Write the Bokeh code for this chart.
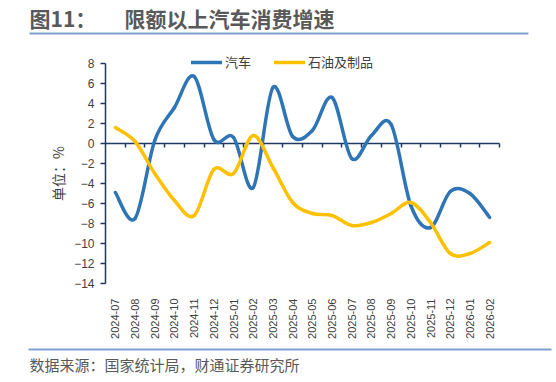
import math
from bokeh.plotting import figure
from bokeh.models import (Range1d, FixedTicker, Label, BoxAnnotation, LinearAxis,
                          Legend, LegendItem, ColumnDataSource)
from bokeh.embed import file_html
from bokeh.resources import INLINE

# ---- data ----
months = ["2024-07", "2024-08", "2024-09", "2024-10", "2024-11", "2024-12",
          "2025-01", "2025-02", "2025-03", "2025-04", "2025-05", "2025-06",
          "2025-07", "2025-08", "2025-09", "2025-10", "2025-11", "2025-12",
          "2026-01", "2026-02"]
auto = [-4.9, -7.5, 0.3, 3.6, 6.7, 0.4, 0.6, -4.4, 5.6, 0.7, 1.3, 4.6,
        -1.5, 0.8, 1.9, -6.2, -8.4, -4.8, -5.0, -7.4]
oil = [1.6, 0.2, -3.0, -5.7, -7.2, -2.6, -3.0, 0.8, -2.4, -5.9, -7.0, -7.2,
       -8.2, -7.9, -7.0, -5.9, -7.9, -11.0, -11.0, -9.9]
y_ticks = [-14, -12, -10, -8, -6, -4, -2, 0, 2, 4, 6, 8]
Y_MIN, Y_MAX = -14, 8

BLUE = "#2E75B6"
GOLD = "#FFC000"
NAVY = "#1F3864"
GREY = "#404040"
TGREY = "#595959"
RULE = "#7F9FCF"
CJK = "Noto Sans CJK SC"

W, H = 556, 382
# plot area in page pixels
PL, PT, PR, PB = 105, 63, 499, 283
n = len(months)
xpx = (PR - PL) / n            # px per category
ypx = (PB - PT) / (Y_MAX - Y_MIN)  # px per unit

x_lo = -0.5 - PL / xpx
x_hi = n - 0.5 + (W - PR) / xpx
y_hi = Y_MAX + PT / ypx
y_lo = Y_MIN - (H - PB) / ypx

p = figure(width=W, height=H, output_backend="svg", toolbar_location=None,
           x_range=Range1d(x_lo, x_hi), y_range=Range1d(y_lo, y_hi),
           x_axis_location=None, y_axis_location=None,
           min_border=0, min_border_left=0, min_border_right=0,
           min_border_top=0, min_border_bottom=0)
p.outline_line_color = None
p.grid.visible = False
p.background_fill_color = "white"
p.border_fill_color = "white"

# y axis
ya = LinearAxis(fixed_location=-0.5, bounds=(Y_MIN, Y_MAX),
                ticker=FixedTicker(ticks=y_ticks))
ya.axis_line_color = NAVY
ya.axis_line_width = 1.5
ya.major_tick_line_color = NAVY
ya.major_tick_line_width = 1.5
ya.major_tick_out = 5
ya.major_tick_in = 0
ya.minor_tick_line_color = None
ya.major_label_text_font = "Liberation Sans"
ya.major_label_text_font_size = "12px"
ya.major_label_text_color = GREY
ya.major_label_standoff = 6
ya.axis_label = "单位：%"
ya.axis_label_text_font = CJK
ya.axis_label_text_font_size = "14px"
ya.axis_label_text_font_style = "normal"
ya.axis_label_text_color = GREY
ya.axis_label_standoff = 3
p.add_layout(ya, "left")

# x axis: category labels at bottom of plot area
xs = list(range(n))
xa = LinearAxis(fixed_location=Y_MIN, ticker=FixedTicker(ticks=xs))
xa.major_label_overrides = {i: m for i, m in enumerate(months)}
xa.major_label_orientation = math.pi / 2
xa.axis_line_color = None
xa.major_tick_line_color = None
xa.minor_tick_line_color = None
xa.major_label_text_font = "Liberation Sans"
xa.major_label_text_font_size = "11px"
xa.major_label_text_color = GREY
xa.major_label_standoff = 9
p.add_layout(xa, "below")

# zero axis line with category-boundary ticks
bounds = [i + 0.5 for i in xs]
za = LinearAxis(fixed_location=0, bounds=(-0.5, n - 0.5),
                ticker=FixedTicker(ticks=bounds), level="underlay")
za.major_label_overrides = {b: "" for b in bounds}
za.major_label_text_font_size = "1px"
za.axis_line_color = NAVY
za.axis_line_width = 1.5
za.major_tick_line_color = NAVY
za.major_tick_line_width = 1.5
za.major_tick_out = 4
za.major_tick_in = 0
za.minor_tick_line_color = None
p.add_layout(za, "below")


def smooth(ys):
    m = len(ys)
    d = dict(x0=[], y0=[], x1=[], y1=[], cx0=[], cy0=[], cx1=[], cy1=[])
    for i in range(m - 1):
        im1 = max(i - 1, 0)
        ip2 = min(i + 2, m - 1)
        d["x0"].append(xs[i]); d["y0"].append(ys[i])
        d["x1"].append(xs[i + 1]); d["y1"].append(ys[i + 1])
        d["cx0"].append(xs[i] + (xs[i + 1] - xs[im1]) / 6)
        d["cy0"].append(ys[i] + (ys[i + 1] - ys[im1]) / 6)
        d["cx1"].append(xs[i + 1] - (xs[ip2] - xs[i]) / 6)
        d["cy1"].append(ys[i + 1] - (ys[ip2] - ys[i]) / 6)
    return ColumnDataSource(d)


r_auto = p.bezier(x0="x0", y0="y0", x1="x1", y1="y1", cx0="cx0", cy0="cy0",
                  cx1="cx1", cy1="cy1", source=smooth(auto),
                  line_color=BLUE, line_width=3.5, line_cap="round")
r_oil = p.bezier(x0="x0", y0="y0", x1="x1", y1="y1", cx0="cx0", cy0="cy0",
                 cx1="cx1", cy1="cy1", source=smooth(oil),
                 line_color=GOLD, line_width=3.5, line_cap="round")


# screen coords: origin at frame (= canvas) bottom-left, y up
def sy(py):
    return H - py


legend = Legend(items=[LegendItem(label="汽车", renderers=[r_auto]),
                       LegendItem(label="石油及制品", renderers=[r_oil])],
                location=(191, sy(61.5) - 10), orientation="horizontal",
                padding=0, margin=0, spacing=23, glyph_width=31, glyph_height=20,
                label_height=20, label_standoff=3,
                label_text_font=CJK, label_text_font_size="13px",
                label_text_color=GREY, border_line_color=None,
                background_fill_alpha=0)
p.add_layout(legend, "center")

# title, rules, footer
p.add_layout(Label(x=29, y=sy(17.5), x_units="screen", y_units="screen",
                   text="图11：", text_font=CJK, text_font_size="21px",
                   text_font_style="bold", text_color=TGREY,
                   text_baseline="middle"))
p.add_layout(Label(x=124, y=sy(17.5), x_units="screen", y_units="screen",
                   text="限额以上汽车消费增速", text_font=CJK, text_font_size="21px",
                   text_font_style="bold", text_color=TGREY,
                   text_baseline="middle"))
p.add_layout(BoxAnnotation(left=29, right=528, top=sy(32), bottom=sy(34),
                           left_units="screen", right_units="screen",
                           top_units="screen", bottom_units="screen",
                           fill_color=RULE, fill_alpha=1, line_color=None))
p.add_layout(BoxAnnotation(left=28, right=551, top=sy(348), bottom=sy(350),
                           left_units="screen", right_units="screen",
                           top_units="screen", bottom_units="screen",
                           fill_color=RULE, fill_alpha=1, line_color=None))
p.add_layout(Label(x=29, y=sy(364), x_units="screen", y_units="screen",
                   text="数据来源：国家统计局，财通证券研究所", text_font=CJK,
                   text_font_size="15px", text_color=TGREY,
                   text_baseline="middle"))

open("out.html", "w").write(file_html(p, INLINE))
